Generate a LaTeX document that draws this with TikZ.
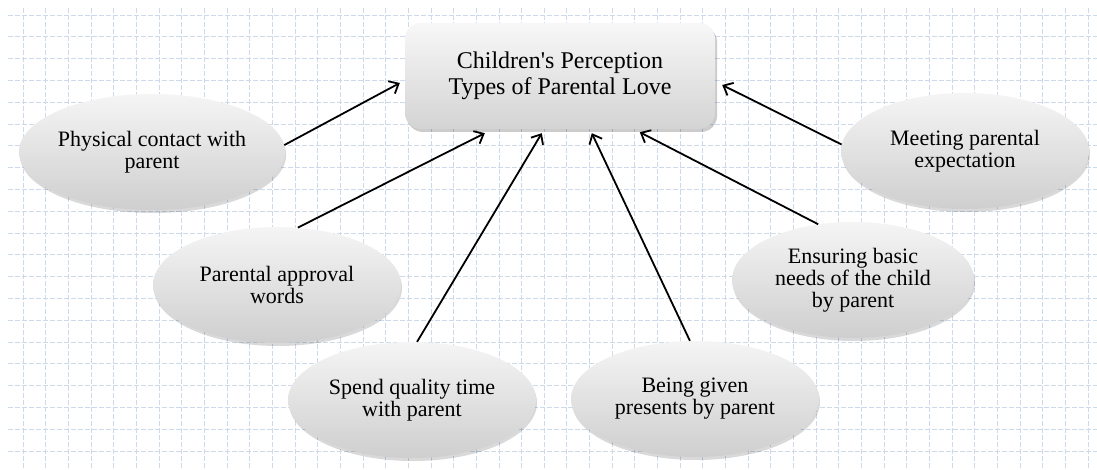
\documentclass[tikz,border=0pt]{standalone}
\usepackage{fontspec}
\setmainfont{Liberation Serif}
\usetikzlibrary{arrows.meta,shadows,shapes.geometric}
\definecolor{gridc}{RGB}{205,218,234}
\begin{document}
\begin{tikzpicture}[x=1pt,y=-1pt,
  gridline/.style={draw=gridc,line width=0.7pt,dash pattern=on 5pt off 2pt},
  boxst/.style={rounded corners=16pt,minimum width=310pt,minimum height=106pt,
    top color=gray!6,bottom color=gray!34,draw=none,align=center,
    drop shadow={shadow xshift=2pt,shadow yshift=-3pt,fill=black,opacity=0.2},
    font=\fontsize{24}{26}\selectfont},
  ell/.style={ellipse,minimum width=248pt,minimum height=116pt,inner sep=0pt,
    top color=gray!8,middle color=gray!16,bottom color=gray!38,draw=none,align=center,
    drop shadow={shadow xshift=1pt,shadow yshift=-3pt,fill=black,opacity=0.15},
    font=\fontsize{22}{22}\selectfont},
  arr/.style={draw=black,line width=1.8pt,-{Straight Barb[length=8pt,width=14pt]}}]
\useasboundingbox (0,0) rectangle (1097,470);
\fill[white] (0,0) rectangle (1097,470);
\foreach \i in {0,...,47} \draw[gridline] ({23+22.66*\i},8) -- ({23+22.66*\i},470);
\foreach \j in {0,...,20} \draw[gridline] (8,{15+21.8*\j}) -- (1097,{15+21.8*\j});

\node[boxst] (box) at (560,76) {Children\textquotesingle s Perception\\Types of Parental Love};

\node[ell] (phys) at (152,152) {Physical contact with\\parent};
\node[ell] (appr) at (277,285) {Parental approval\\words};
\node[ell] (spend) at (412,400) {Spend quality time\\with parent};
\node[ell] (being) at (695,399) {Being given\\presents by parent};
\node[ell,minimum width=242pt] (ens) at (853,280) {Ensuring basic\\needs of the child\\by parent};
\node[ell] (meet) at (965,151) {Meeting parental\\expectation};

\draw[arr] (phys.3) -- ([shift={(-5,7)}]box.west);
\draw[arr] (appr.70) -- ([shift={(80,4)}]box.south west);
\draw[arr] (spend.85) -- ([shift={(137,4)}]box.south west);
\draw[arr] (being.95) -- ([shift={(187,4)}]box.south west);
\draw[arr] (ens.122) -- ([shift={(235,3)}]box.south west);
\draw[arr] (meet.177) -- ([shift={(7,9)}]box.east);
\end{tikzpicture}
\end{document}
